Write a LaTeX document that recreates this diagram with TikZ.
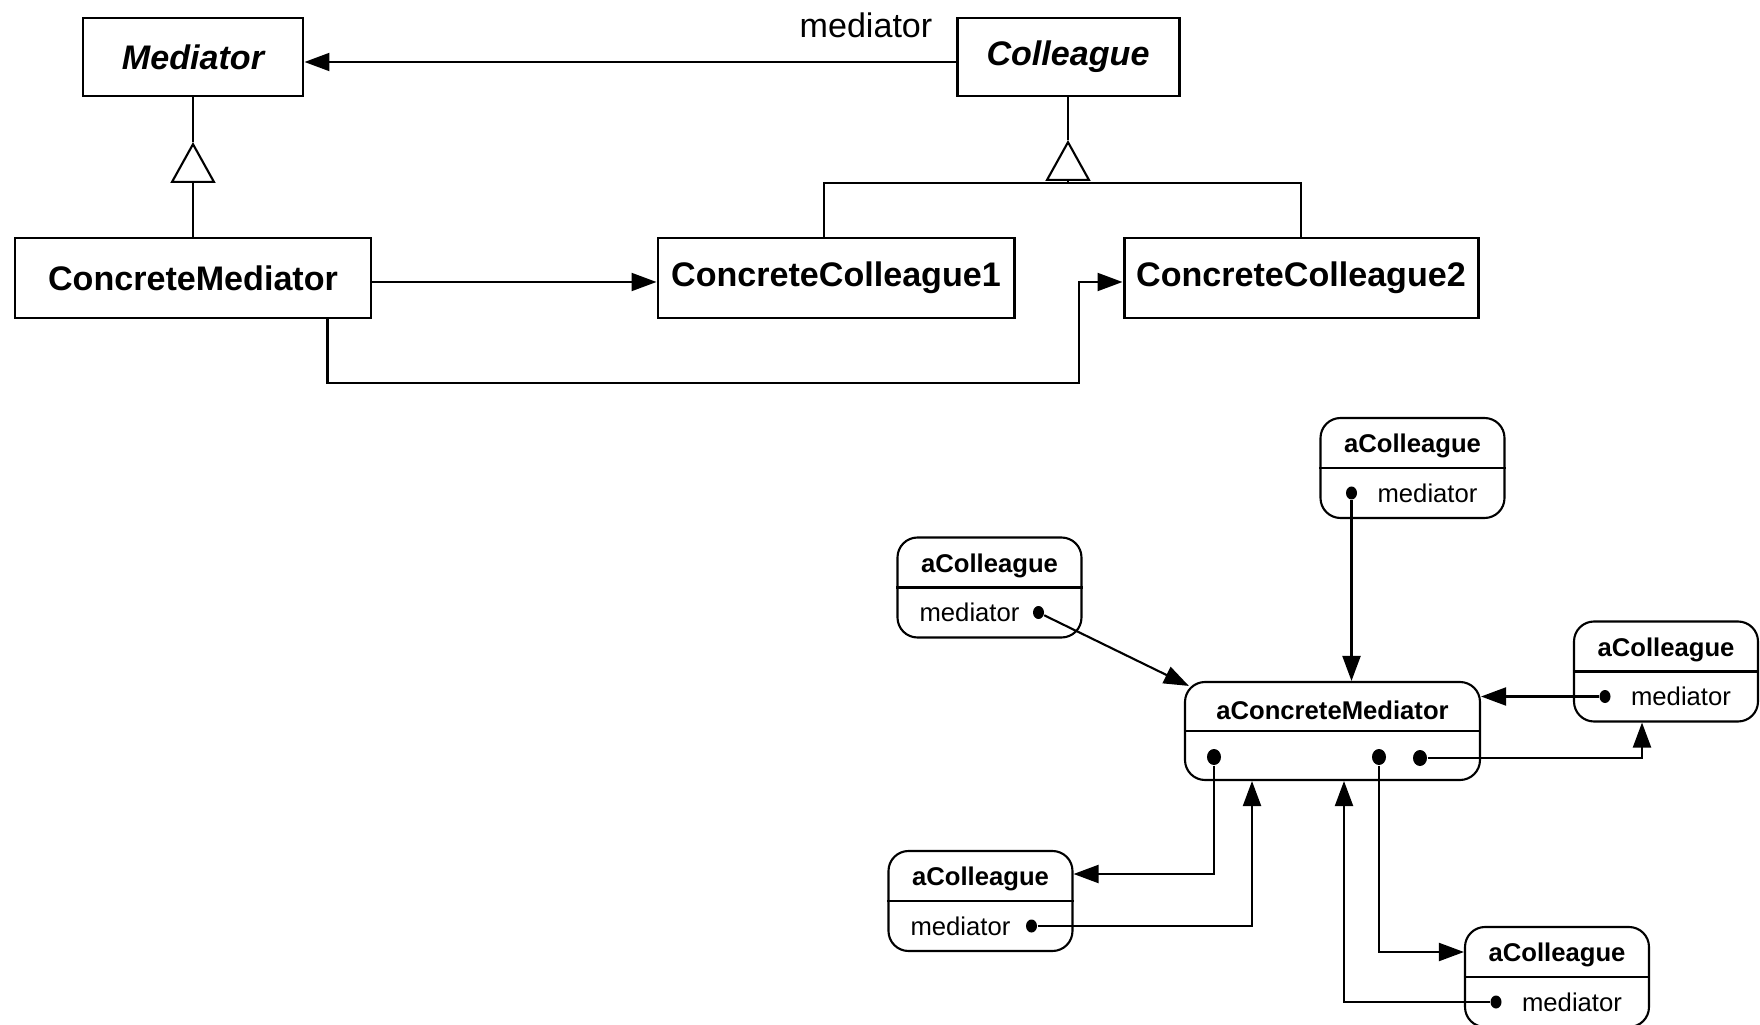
\documentclass[tikz,border=0pt]{standalone}
\usepackage{fontspec}
\setmainfont{Liberation Sans}
\usetikzlibrary{arrows.meta}

\tikzset{
  classbox/.style={draw, line width=0.85pt, minimum height=0.8cm, inner sep=0pt,
    font=\fontsize{9.7}{11}\selectfont\bfseries},
  abstractbox/.style={classbox, minimum height=0.78cm,
    font=\fontsize{9.7}{11}\selectfont\bfseries\itshape},
  objbox/.style={draw, line width=0.6pt, rounded corners=0.2cm, minimum width=1.84cm, minimum height=1cm},
  objtitle/.style={inner sep=0pt, font=\fontsize{7.3}{9}\selectfont\bfseries},
  objfield/.style={inner sep=0pt, font=\fontsize{7.3}{9}\selectfont},
  refdot/.style={ellipse, fill=black, inner sep=0pt, minimum width=0.11cm, minimum height=0.13cm},
  bigdot/.style={refdot, minimum width=0.14cm, minimum height=0.16cm},
  link/.style={line width=0.6pt, -{Triangle[length=0.25cm, width=0.18cm]}},
  inherit/.style={line width=0.6pt, -{Triangle[open, length=0.41cm, width=0.45cm]}},
  plain/.style={line width=0.6pt},
}
\usetikzlibrary{shapes.geometric}

\begin{document}
\begin{tikzpicture}
  \useasboundingbox (0,0) rectangle (17.6,-10.25);
  %classi
  \node[abstractbox, minimum width=2.2cm] (Mediator) at (1.93,-0.57) {Mediator};
  \node[abstractbox, minimum width=2.22cm] (Colleague) at (10.68,-0.57) {Colleague};
  \node[classbox, minimum width=3.56cm] (ConcreteMediator) at (1.93,-2.78) {ConcreteMediator};
  \node[classbox, minimum width=3.56cm] (ConcreteColleague1) at (8.36,-2.78) {ConcreteColleague1};
  \node[classbox, minimum width=3.54cm] (ConcreteColleague2) at (13.01,-2.78) {ConcreteColleague2};
  \node[objfield, font=\fontsize{9.7}{11}\selectfont] (medLabel) at (8.66,-0.25) {mediator};
  %associazioni
  \draw[link] ([yshift=-0.05cm]Colleague.west) -- ([yshift=-0.05cm]Mediator.east);
  \draw[link] ([yshift=-0.04cm]ConcreteMediator.east) -- ([yshift=-0.04cm]ConcreteColleague1.west);
  \coordinate (giro) at (10.79,-3.83);
  \draw[link] ([xshift=1.345cm]ConcreteMediator.south) |- (giro) |- ([yshift=-0.04cm]ConcreteColleague2.west);
  %ereditarieta
  \coordinate (medTip) at (1.93,-1.42);
  \draw[inherit] (ConcreteMediator.north) -- (medTip);
  \draw[plain] (medTip) -- (Mediator.south);
  \coordinate (colTip) at (10.68,-1.40);
  \coordinate (colJoin) at (10.68,-1.83);
  \draw[plain] ([xshift=-0.12cm]ConcreteColleague1.north) |- (colJoin) -| (ConcreteColleague2.north);
  \draw[inherit] (colJoin) -- (colTip);
  \draw[plain] (colTip) -- (Colleague.south);

  %oggetti
  %mediatore
  \node[objbox, minimum width=2.95cm, minimum height=0.98cm] (aConcreteMediator) at (13.325,-7.31) {};
  \draw[line width=0.85pt] (aConcreteMediator.west) -- (aConcreteMediator.east);
  \node[objtitle] (aConcreteMediatorT) at ([yshift=0.21cm]aConcreteMediator.center) {aConcreteMediator};
  \node[bigdot] (mDot1) at (12.14,-7.57) {};
  \node[bigdot] (mDot2) at (13.79,-7.57) {};
  \node[bigdot] (mDot3) at (14.20,-7.58) {};
  %colleghi
  \node[objbox] (aCol1) at (14.125,-4.68) {};
  \draw[line width=0.85pt] (aCol1.west) -- (aCol1.east);
  \node[objtitle] (aCol1T) at ([yshift=0.22cm]aCol1.center) {aColleague};
  \node[objfield] (aCol1F) at ([xshift=0.15cm,yshift=-0.25cm]aCol1.center) {mediator};
  \node[refdot] (dot1) at ([xshift=-0.61cm,yshift=-0.25cm]aCol1.center) {};

  \node[objbox] (aCol2) at (9.895,-5.875) {};
  \draw[line width=0.85pt] (aCol2.west) -- (aCol2.east);
  \node[objtitle] (aCol2T) at ([yshift=0.22cm]aCol2.center) {aColleague};
  \node[objfield] (aCol2F) at ([xshift=-0.2cm,yshift=-0.25cm]aCol2.center) {mediator};
  \node[refdot] (dot2) at ([xshift=0.49cm,yshift=-0.25cm]aCol2.center) {};

  \node[objbox] (aCol3) at (16.66,-6.715) {};
  \draw[line width=0.85pt] (aCol3.west) -- (aCol3.east);
  \node[objtitle] (aCol3T) at ([yshift=0.22cm]aCol3.center) {aColleague};
  \node[objfield] (aCol3F) at ([xshift=0.15cm,yshift=-0.25cm]aCol3.center) {mediator};
  \node[refdot] (dot3) at ([xshift=-0.61cm,yshift=-0.25cm]aCol3.center) {};

  \node[objbox] (aCol4) at (9.805,-9.01) {};
  \draw[line width=0.85pt] (aCol4.west) -- (aCol4.east);
  \node[objtitle] (aCol4T) at ([yshift=0.22cm]aCol4.center) {aColleague};
  \node[objfield] (aCol4F) at ([xshift=-0.2cm,yshift=-0.25cm]aCol4.center) {mediator};
  \node[refdot] (dot4) at ([xshift=0.51cm,yshift=-0.25cm]aCol4.center) {};

  \node[objbox] (aCol5) at (15.57,-9.77) {};
  \draw[line width=0.85pt] (aCol5.west) -- (aCol5.east);
  \node[objtitle] (aCol5T) at ([yshift=0.22cm]aCol5.center) {aColleague};
  \node[objfield] (aCol5F) at ([xshift=0.15cm,yshift=-0.25cm]aCol5.center) {mediator};
  \node[refdot] (dot5) at ([xshift=-0.61cm,yshift=-0.25cm]aCol5.center) {};
  %riferimenti
  \draw[link] (dot1) -- (dot1 |- aConcreteMediator.north);
  \draw[link] (dot2) -- ([shift={(0.05,-0.05)}]aConcreteMediator.north west);
  \draw[link] (dot3) -- (dot3 -| aConcreteMediator.east);
  \draw[link] (mDot3) -| ([xshift=-0.24cm]aCol3.south);
  \draw[link] (mDot1) |- ([yshift=0.27cm]aCol4.east);
  \draw[link] (dot4) -| ([xshift=-0.805cm]aConcreteMediator.south);
  \draw[link] (mDot2) |- ([yshift=0.25cm]aCol5.west);
  \draw[link] (dot5) -| ([xshift=0.115cm]aConcreteMediator.south);
\end{tikzpicture}
\end{document}
